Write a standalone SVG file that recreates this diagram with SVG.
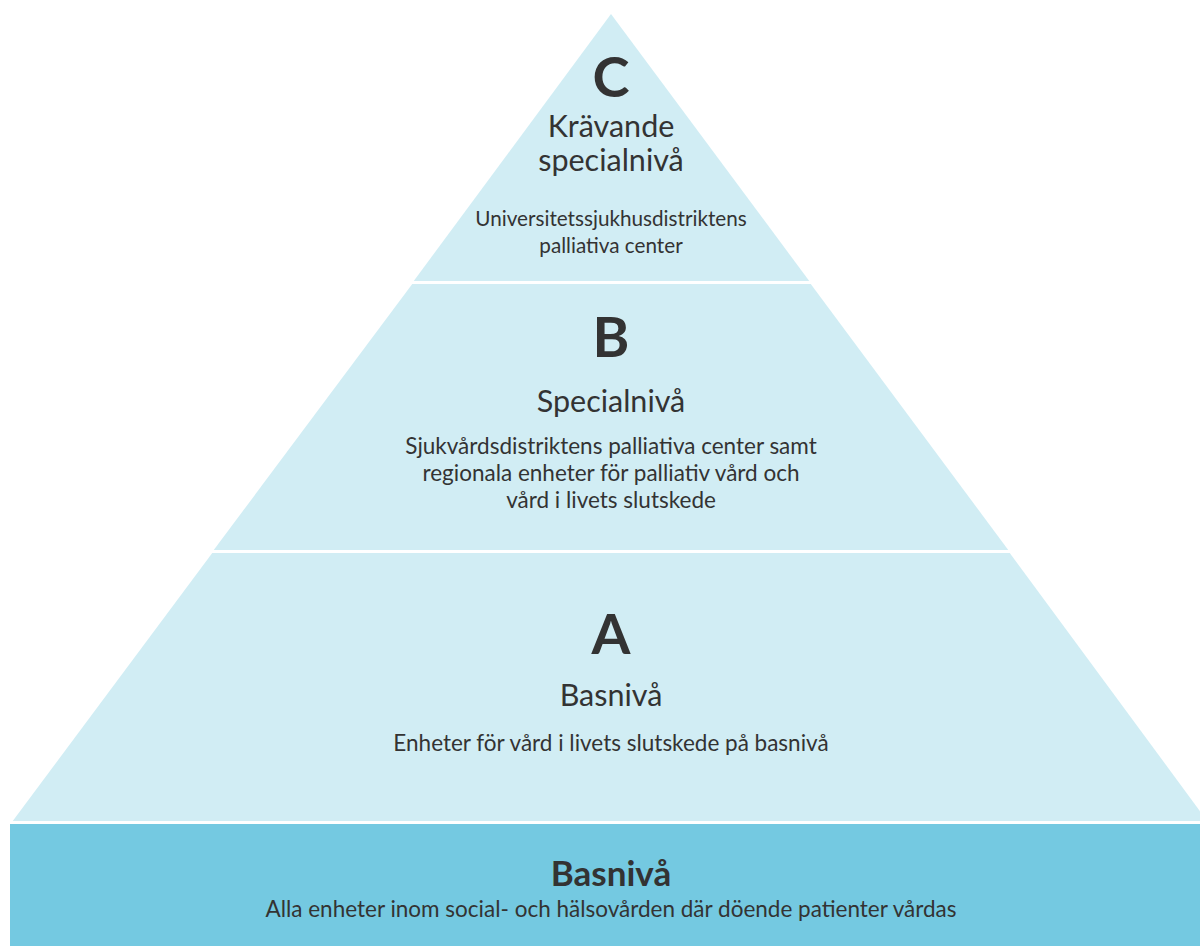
<svg xmlns="http://www.w3.org/2000/svg" width="1200" height="946" viewBox="0 0 1200 946">
<style>
.band{fill:#d1edf4}
.base{fill:#74c9e1}
.sep{stroke:#ffffff;stroke-width:3}
text{font-family:Lato,"Open Sans","Liberation Sans",sans-serif;fill:#333333;text-anchor:middle}
.letter{font-size:56px;font-weight:bold}
.title{font-size:30.5px}
.desc{font-size:22.5px}
.descs{font-size:20.7px}
.btitle{font-size:35px;font-weight:bold}
</style>
<rect width="1200" height="946" fill="#ffffff"/>
<g id="level-c">
<polygon class="band" points="611,14 810,282 413,282"/>
<text class="letter" x="611" y="97">C</text>
<text class="title" x="611" y="137">Krävande</text>
<text class="title" x="611" y="171">specialnivå</text>
<text class="descs" x="611" y="226">Universitetssjukhusdistriktens</text>
<text class="descs" x="611" y="253">palliativa center</text>
</g>
<g id="level-b">
<polygon class="band" points="413,283 810,283 1009,551 213,551"/>
<text class="letter" x="611" y="357">B</text>
<text class="title" x="611" y="412">Specialnivå</text>
<text class="desc" x="611" y="454">Sjukvårdsdistriktens palliativa center samt</text>
<text class="desc" x="611" y="481">regionala enheter för palliativ vård och</text>
<text class="desc" x="611" y="508">vård i livets slutskede</text>
</g>
<g id="level-a">
<polygon class="band" points="213,552 1009,552 1208,822 12,822"/>
<text class="letter" x="611" y="654">A</text>
<text class="title" x="611" y="706">Basnivå</text>
<text class="desc" x="611" y="751">Enheter för vård i livets slutskede på basnivå</text>
</g>
<g id="base">
<rect class="base" x="10" y="824" width="1190" height="122"/>
<text class="btitle" x="611" y="886">Basnivå</text>
<text class="desc" x="611" y="917">Alla enheter inom social- och hälsovården där döende patienter vårdas</text>
</g>
<g id="connectors">
<line class="sep" x1="400" y1="282.5" x2="830" y2="282.5"/>
<line class="sep" x1="200" y1="551.5" x2="1020" y2="551.5"/>
<line class="sep" x1="0" y1="822.5" x2="1200" y2="822.5"/>
</g>
</svg>
